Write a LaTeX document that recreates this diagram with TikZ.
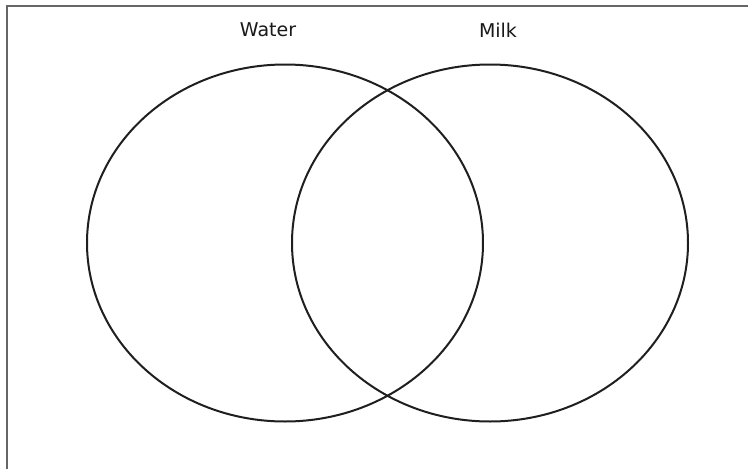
\documentclass[tikz,border=0pt]{standalone}
\usepackage{fontspec}
\setmainfont{DejaVu Sans}
\usetikzlibrary{shapes.geometric}
\begin{document}
\begin{tikzpicture}[x=1pt,y=-1pt,
  setring/.style={draw=black!88,line width=2pt,ellipse,minimum width=396pt,minimum height=357pt,inner sep=0pt},
  setlabel/.style={font=\fontsize{19}{22}\selectfont,text=black!90,inner sep=0pt},
  frameline/.style={draw=black!60,line width=2pt}]
\useasboundingbox (0,0) rectangle (748,469);
\fill[white] (0,0) rectangle (748,469);
\coordinate (tl) at (7,6);
\coordinate (tr) at (748,6);
\coordinate (bl) at (7,469);
\draw[frameline] (tr) -- (tl) -- (bl);
\node[setring] (water) at (285,243) {};
\node[setring] (milk) at (490,243) {};
\node[setlabel] (wlabel) at (268,30) {Water};
\node[setlabel] (mlabel) at (498,30) {Milk};
\end{tikzpicture}
\end{document}
